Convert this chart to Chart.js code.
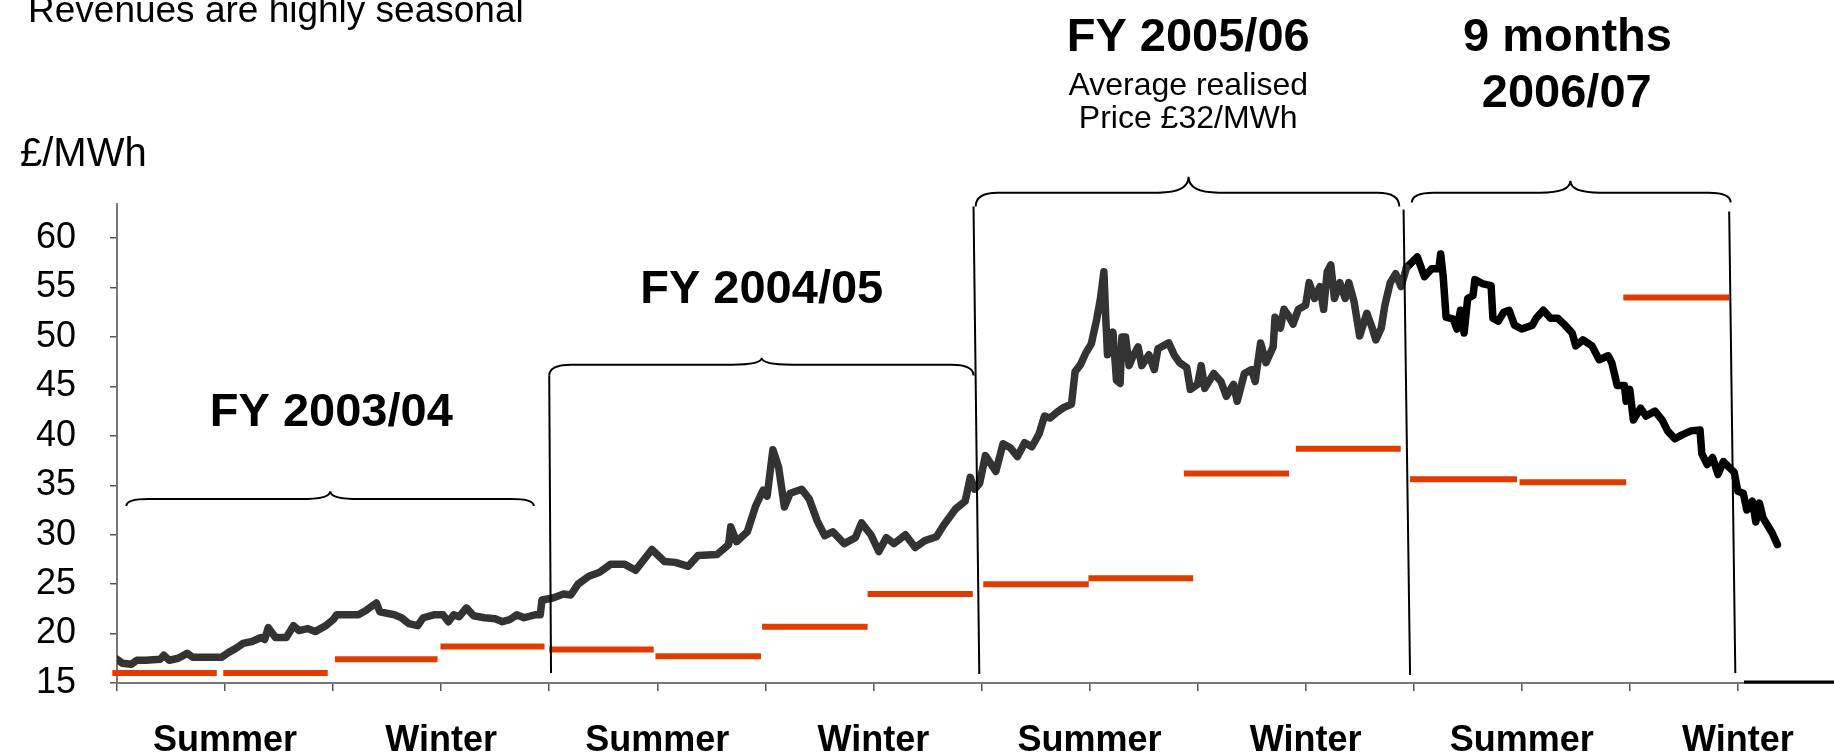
<!DOCTYPE html>
<html>
<head>
<meta charset="utf-8">
<script src="https://cdn.jsdelivr.net/npm/chart.js@4.4.1/dist/chart.umd.min.js"></script>
<style>
  html, body { margin: 0; padding: 0; background: #fff; }
  canvas { display: block; }
</style>
</head>
<body>
<canvas id="prices" width="1834" height="753"></canvas>
<script>
// months counted from April 2003 (0), one tick per quarter
const grayMonths = [0.0, 0.15, 0.4, 0.55, 0.8, 1.2, 1.3, 1.45, 1.7, 1.95, 2.1, 2.4, 2.9, 3.1, 3.3, 3.5, 3.75, 4.0, 4.1, 4.2,
  4.4, 4.7, 4.9, 5.05, 5.3, 5.5, 5.8, 6.0, 6.1, 6.7, 6.9, 7.2, 7.3, 7.7, 7.9, 8.1, 8.35, 8.5, 8.8, 9.05,
  9.2, 9.35, 9.5, 9.7, 9.9, 10.2, 10.5, 10.7, 10.9, 11.1, 11.3, 11.6, 11.75, 11.8, 12.1, 12.4, 12.6, 12.8, 13.1, 13.4,
  13.7, 14.1, 14.4, 14.85, 15.2, 15.5, 15.86, 16.13, 16.66, 16.98, 17.04, 17.2, 17.5, 17.73, 17.94, 18.05, 18.21, 18.37, 18.53, 18.69,
  19.01, 19.22, 19.44, 19.65, 19.87, 20.19, 20.5, 20.67, 20.93, 21.15, 21.36, 21.57, 21.89, 22.16, 22.43, 22.75, 22.96, 23.28, 23.55, 23.69,
  23.81, 23.95, 24.11, 24.4, 24.6, 24.8, 25.0, 25.2, 25.4, 25.6, 25.75, 25.9, 26.1, 26.3, 26.5, 26.6, 26.75, 26.9, 27.05, 27.2,
  27.3, 27.4, 27.45, 27.5, 27.65, 27.75, 27.85, 27.9, 28.0, 28.1, 28.2, 28.35, 28.45, 28.65, 28.8, 28.9, 29.2, 29.35, 29.5, 29.7,
  29.8, 30.0, 30.1, 30.2, 30.45, 30.65, 30.8, 31.0, 31.1, 31.3, 31.5, 31.6, 31.75, 31.9, 32.1, 32.15, 32.3, 32.4, 32.55, 32.65,
  32.8, 33.0, 33.1, 33.25, 33.4, 33.5, 33.6, 33.7, 33.8, 33.95, 34.1, 34.2, 34.35, 34.5, 34.7, 34.85, 34.95, 35.1, 35.2, 35.35,
  35.5, 35.65, 35.8];
const grayPrices = [17.4, 17.0, 16.9, 17.3, 17.3, 17.4, 17.8, 17.3, 17.5, 18.0, 17.6, 17.6, 17.6, 18.1, 18.5, 19.0, 19.2, 19.6, 19.4, 20.6,
  19.6, 19.6, 20.8, 20.3, 20.5, 20.2, 20.8, 21.4, 21.9, 21.9, 22.3, 23.1, 22.2, 21.9, 21.6, 21.0, 20.8, 21.6, 21.9, 21.9,
  21.2, 21.9, 21.7, 22.6, 21.8, 21.6, 21.5, 21.2, 21.4, 21.9, 21.6, 21.9, 21.9, 23.4, 23.6, 24.0, 23.9, 25.0, 25.8, 26.2,
  27.0, 27.0, 26.4, 28.5, 27.3, 27.2, 26.8, 27.9, 28.0, 29.0, 30.8, 29.3, 30.3, 32.9, 34.5, 33.9, 38.6, 36.8, 32.8, 34.2,
  34.6, 33.6, 31.4, 29.9, 30.3, 29.1, 29.7, 31.2, 30.0, 28.3, 29.7, 29.1, 30.0, 28.7, 29.4, 29.8, 31.0, 32.6, 33.4, 35.8,
  34.6, 35.2, 38.0, 36.4, 39.2, 38.8, 37.9, 39.3, 38.9, 40.2, 42.0, 41.8, 42.4, 42.9, 43.2, 46.5, 47.2, 48.4, 49.3, 51.8,
  53.8, 56.6, 52.0, 48.2, 50.5, 45.6, 45.3, 50.0, 50.0, 47.1, 48.0, 49.0, 47.1, 48.2, 46.7, 48.8, 49.4, 48.2, 47.4, 46.9,
  44.7, 45.2, 47.1, 44.8, 46.3, 45.5, 44.0, 45.2, 43.5, 46.3, 46.7, 45.5, 49.4, 47.4, 49.0, 52.0, 50.9, 52.8, 52.0, 51.3,
  52.8, 53.2, 55.5, 53.9, 55.1, 52.8, 56.6, 57.3, 53.9, 55.5, 53.9, 55.5, 53.5, 50.1, 52.4, 50.9, 49.7, 50.9, 53.2, 55.5,
  56.4, 55.1, 57.0];

const blackMonths = [35.8, 36.1, 36.3, 36.5, 36.7, 36.75, 36.82, 36.9, 37.1, 37.2, 37.3, 37.4, 37.5, 37.65, 37.7, 37.9, 38.15, 38.2, 38.35, 38.5,
  38.65, 38.8, 39.0, 39.3, 39.4, 39.6, 39.8, 40.0, 40.2, 40.4, 40.5, 40.7, 40.95, 41.15, 41.4, 41.5, 41.65, 41.85, 41.9, 42.0,
  42.1, 42.3, 42.45, 42.7, 42.9, 43.05, 43.25, 43.45, 43.7, 43.95, 44.0, 44.15, 44.3, 44.45, 44.6, 44.9, 45.0, 45.15, 45.25, 45.4,
  45.5, 45.6, 45.7, 45.85, 45.95, 46.1];
const blackPrices = [57.0, 58.1, 56.1, 56.9, 56.9, 58.4, 56.1, 52.0, 51.8, 50.8, 52.7, 50.4, 53.9, 54.2, 55.8, 55.4, 55.2, 51.9, 51.6, 52.5,
  52.7, 51.2, 50.8, 51.2, 51.9, 52.7, 51.9, 51.9, 51.2, 50.4, 49.1, 49.7, 49.1, 47.7, 48.1, 47.4, 45.1, 45.1, 43.5, 44.7,
  41.6, 42.8, 42.0, 42.5, 41.6, 40.5, 39.7, 40.1, 40.5, 40.6, 38.2, 37.1, 37.8, 36.1, 37.4, 36.3, 34.4, 34.2, 32.5, 33.4,
  31.3, 33.2, 31.7, 30.8, 30.2, 29.0];

// quarterly realised prices
const quarterStart = [-0.13, 2.95, 6.05, 8.98, 12.0, 14.95, 17.91, 20.84, 24.05, 26.97, 29.62, 32.73, 35.9, 38.94, 41.82];
const quarterEnd = [2.77, 5.85, 8.9, 11.87, 14.9, 17.88, 20.84, 23.76, 26.98, 29.88, 32.54, 35.64, 38.87, 41.9, 44.76];
const quarterAvg = [16.0, 16.0, 17.4, 18.7, 18.4, 17.7, 20.7, 24.0, 25.0, 25.6, 36.2, 38.7, 35.6, 35.3, 54.0];

const quarterTicks = [0, 3, 6, 9, 12, 15, 18, 21, 24, 27, 30, 33, 36, 39, 42, 45];
const seasonTickMonths = [3, 9, 15, 21, 27, 33, 39, 45];
const seasonLabels = ['Summer', 'Winter', 'Summer', 'Winter', 'Summer', 'Winter', 'Summer', 'Winter'];
const priceTicks = [15, 20, 25, 30, 35, 40, 45, 50, 55, 60];

// financial year dividers: [month top, value top, month bottom, value bottom]
const dividers = [
  [12.0, 46.1, 12.05, 16.0],
  [23.78, 63.2, 23.94, 15.9],
  [35.72, 62.9, 35.9, 15.8],
  [44.76, 62.7, 44.93, 16.0]
];
// braces: [from month, to month, end value, flat value, tip month, tip value]
const braces = [
  [0.26, 11.57, 32.9, 33.6, 5.92, 34.4],
  [12.0, 23.78, 46.1, 47.2, 17.9, 47.9],
  [23.84, 35.6, 63.2, 64.6, 29.75, 66.2],
  [35.95, 44.8, 63.6, 64.6, 40.35, 65.8]
];
const periodLabels = [
  {text: 'FY 2003/04', month: 5.95, value: 40.95, bold: true},
  {text: 'FY 2004/05', month: 17.9, value: 53.4, bold: true},
  {text: 'FY 2005/06', month: 29.74, value: 78.96, bold: true},
  {text: 'Average realised', month: 29.74, value: 74.5, bold: false},
  {text: 'Price £32/MWh', month: 29.74, value: 71.1, bold: false},
  {text: '9 months', month: 40.27, value: 78.96, bold: true},
  {text: '2006/07', month: 40.25, value: 73.24, bold: true}
];

const FONT = "'Liberation Sans', Arial, sans-serif";

const toPoints = (xs, ys) => xs.map((m, i) => ({x: m, y: ys[i]}));
const barPoints = quarterStart.flatMap((s, i) => [
  {x: s, y: quarterAvg[i]}, {x: quarterEnd[i], y: quarterAvg[i]}, {x: quarterEnd[i], y: null}
]);

function drawBrace(ctx, x, y, b) {
  const x1 = x.getPixelForValue(b[0]), x2 = x.getPixelForValue(b[1]);
  const yEnd = y.getPixelForValue(b[2]), yFlat = y.getPixelForValue(b[3]);
  const xm = x.getPixelForValue(b[4]), yTip = y.getPixelForValue(b[5]);
  const r = 22, rt = 30;
  ctx.beginPath();
  ctx.moveTo(x1, yEnd);
  ctx.quadraticCurveTo(x1, yFlat, x1 + r, yFlat);
  ctx.lineTo(xm - rt, yFlat);
  ctx.quadraticCurveTo(xm, yFlat, xm, yTip);
  ctx.quadraticCurveTo(xm, yFlat, xm + rt, yFlat);
  ctx.lineTo(x2 - r, yFlat);
  ctx.quadraticCurveTo(x2, yFlat, x2, yEnd);
  ctx.stroke();
}

const annotations = {
  id: 'annotations',
  afterDatasetsDraw(chart) {
    const {ctx, scales: {x, y}, chartArea} = chart;
    ctx.save();
    ctx.strokeStyle = '#000';
    ctx.lineWidth = 2;
    dividers.forEach(d => {
      ctx.beginPath();
      ctx.moveTo(x.getPixelForValue(d[0]), y.getPixelForValue(d[1]));
      ctx.lineTo(x.getPixelForValue(d[2]), y.getPixelForValue(d[3]));
      ctx.stroke();
    });
    braces.forEach(b => drawBrace(ctx, x, y, b));

    // stray dark segment on the axis after the last period
    ctx.lineWidth = 3;
    ctx.beginPath();
    ctx.moveTo(x.getPixelForValue(45.17), chartArea.bottom - 1);
    ctx.lineTo(chartArea.right, chartArea.bottom - 1);
    ctx.stroke();

    ctx.fillStyle = '#000';
    ctx.textAlign = 'center';
    ctx.textBaseline = 'alphabetic';
    periodLabels.forEach(l => {
      ctx.font = (l.bold ? 'bold 47px ' : '32px ') + FONT;
      ctx.fillText(l.text, x.getPixelForValue(l.month), y.getPixelForValue(l.value));
    });

    ctx.textAlign = 'left';
    ctx.font = '37px ' + FONT;
    ctx.fillText('Revenues are highly seasonal', 28, 22);
    ctx.font = '40px ' + FONT;
    ctx.fillText('£/MWh', 20, 166);
    ctx.restore();
  }
};

new Chart(document.getElementById('prices'), {
  type: 'line',
  data: {
    datasets: [
      {
        label: 'Quarterly realised price',
        data: barPoints,
        borderColor: '#E03C00',
        borderWidth: 6,
        borderCapStyle: 'butt',
        pointRadius: 0,
        spanGaps: false,
        clip: false
      },
      {
        label: 'Baseload price',
        data: toPoints(grayMonths, grayPrices),
        borderColor: '#333333',
        borderWidth: 7.5,
        borderJoinStyle: 'round',
        borderCapStyle: 'round',
        pointRadius: 0,
        tension: 0
      },
      {
        label: 'Baseload price 2006/07',
        data: toPoints(blackMonths, blackPrices),
        borderColor: '#000000',
        borderWidth: 7.5,
        borderJoinStyle: 'round',
        borderCapStyle: 'round',
        pointRadius: 0,
        tension: 0
      }
    ]
  },
  options: {
    responsive: false,
    devicePixelRatio: 1,
    animation: false,
    layout: { padding: { top: 204, left: 0, right: 0, bottom: 0 } },
    plugins: {
      legend: { display: false },
      tooltip: { enabled: false }
    },
    scales: {
      x: {
        type: 'linear',
        min: 0,
        max: 47.67,
        afterFit: (s) => { s.height = 70; },
        afterBuildTicks: (s) => { s.ticks = quarterTicks.map(v => ({value: v})); },
        border: { display: true, color: '#777', width: 2 },
        grid: { drawOnChartArea: false, drawTicks: true, tickLength: 8, color: '#555', lineWidth: 1.5 },
        ticks: {
          autoSkip: false,
          maxRotation: 0,
          padding: 28,
          color: '#000',
          font: { family: FONT, size: 36, weight: 'bold' },
          callback: (v) => {
            const i = seasonTickMonths.indexOf(v);
            return i >= 0 ? seasonLabels[i] : '';
          }
        }
      },
      y: {
        min: 15,
        max: 63.45,
        afterFit: (s) => { s.width = 117; },
        afterBuildTicks: (s) => { s.ticks = priceTicks.map(v => ({value: v})); },
        border: { display: true, color: '#777', width: 2 },
        grid: { drawOnChartArea: false, drawTicks: true, tickLength: 7, color: '#555', lineWidth: 1.5 },
        ticks: {
          autoSkip: false,
          padding: 34,
          color: '#000',
          font: { family: FONT, size: 36 }
        }
      }
    }
  },
  plugins: [annotations]
});
</script>
</body>
</html>
